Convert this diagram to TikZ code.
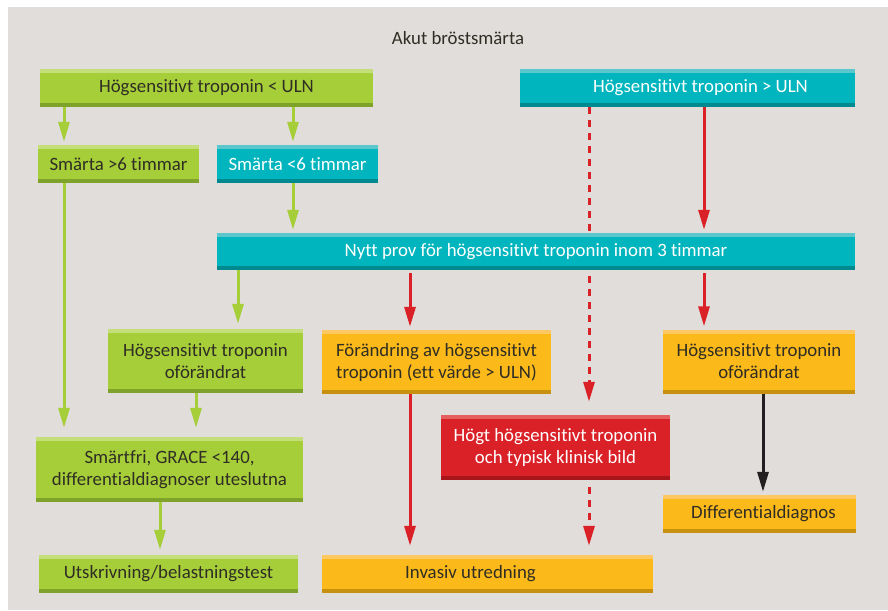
\documentclass[tikz,border=0pt]{standalone}
\usepackage{fontspec}
\setmainfont{Carlito}[Ligatures={NoCommon}]
\usetikzlibrary{arrows.meta,backgrounds}
\definecolor{bgc}{HTML}{E1DDDA}
\definecolor{greenf}{HTML}{A6CE39}
\definecolor{greentop}{HTML}{C4DE7A}
\definecolor{greenbot}{HTML}{7EA22A}
\definecolor{tealf}{HTML}{00B5BD}
\definecolor{tealtop}{HTML}{5BC6CB}
\definecolor{tealbot}{HTML}{00898F}
\definecolor{orangef}{HTML}{FBB91A}
\definecolor{orangetop}{HTML}{FDC862}
\definecolor{orangebot}{HTML}{C8900F}
\definecolor{redf}{HTML}{DA2128}
\definecolor{redtop}{HTML}{E65F5F}
\definecolor{redbot}{HTML}{A8151B}
\definecolor{darktxt}{HTML}{2F2D24}
\definecolor{blackarr}{HTML}{231F20}
\def\boxfont{\fontsize{18.8}{22}\selectfont}
\tikzset{
	flowbox/.style n args={3}{rectangle, inner sep=0pt, align=center, font=\boxfont, fill=#1,
		path picture={
			\fill[#2] (path picture bounding box.north west) rectangle ([yshift=-4pt]path picture bounding box.north east);
			\fill[#3] (path picture bounding box.south west) rectangle ([yshift=4pt]path picture bounding box.south east);
		}},
	greenbox/.style={flowbox={greenf}{greentop}{greenbot}, text=darktxt},
	tealbox/.style={flowbox={tealf}{tealtop}{tealbot}, text=white},
	orangebox/.style={flowbox={orangef}{orangetop}{orangebot}, text=darktxt},
	redbox/.style={flowbox={redf}{redtop}{redbot}, text=white},
	garrow/.style={draw=greenf, line width=3pt, -{Triangle[length=20pt,width=11pt]}, shorten >=3pt},
	rarrow/.style={draw=redf, line width=3pt, -{Triangle[length=20pt,width=11pt]}, shorten >=3pt},
	karrow/.style={draw=blackarr, line width=3pt, -{Triangle[length=20pt,width=11pt]}, shorten >=3pt},
	dashline/.style={dash pattern=on 7pt off 6pt},
}

\begin{document}
\begin{tikzpicture}[x=1pt, y=-1pt]
			%%%%% START %%%%%
			\useasboundingbox (0, 0) rectangle (888, 610);
			
			\node[font=\boxfont, text=darktxt] (title) at (458, 38) {Akut bröstsmärta};
			
			\node[greenbox, minimum width=333pt, minimum height=38pt] (lowA) at (206.5, 88) {Högsensitivt troponin < ULN};
			\node[tealbox, minimum width=335pt, minimum height=38pt] (highA) at (687.5, 88) {\hspace*{26pt}Högsensitivt troponin > ULN};
			
			\node[greenbox, minimum width=161pt, minimum height=38pt] (long) at (118.5, 164) {Smärta >6 timmar};
			\node[tealbox, minimum width=161pt, minimum height=38pt] (short) at (297.5, 164) {Smärta <6 timmar};
			
			\node[tealbox, minimum width=638pt, minimum height=37pt] (retest) at (536, 251.5) {Nytt prov för högsensitivt troponin inom 3 timmar};
			
			\node[greenbox, minimum width=195pt, minimum height=64pt] (sameG) at (205.5, 361) {Högsensitivt troponin\\oförändrat};
			\node[orangebox, minimum width=229pt, minimum height=64pt] (change) at (436.5, 362) {Förändring av högsensitivt\\troponin (ett värde > ULN)};
			\node[orangebox, minimum width=192pt, minimum height=64pt] (sameO) at (759, 361.5) {Högsensitivt troponin\\oförändrat};
			
			\node[redbox, minimum width=229pt, minimum height=65pt] (high) at (555.5, 447.5) {Högt högsensitivt troponin\\och typisk klinisk bild};
			\node[greenbox, minimum width=267pt, minimum height=65pt] (free) at (169.5, 469.5) {Smärtfri, GRACE <140,\\differentialdiagnoser uteslutna};
			\node[orangebox, minimum width=193pt, minimum height=38pt] (diff) at (759.5, 514) {\hspace*{8pt}Differentialdiagnos};
			
			\node[greenbox, minimum width=259pt, minimum height=38pt] (discharge) at (168.5, 574) {Utskrivning/belastningstest};
			\node[orangebox, minimum width=331pt, minimum height=38pt] (invasive) at (487.5, 574) {Invasiv utredning\hspace*{34pt}};
			
			% green path
			\draw[garrow] (lowA.south -| 64,0) -- (long.north -| 64,0);
			\draw[garrow] (lowA.south -| 293,0) -- (short.north -| 293,0);
			\draw[garrow, shorten >=9pt] (long.south -| 64,0) -- (free.north -| 64,0);
			\draw[garrow] (short.south -| 293,0) -- (retest.north -| 293,0);
			\draw[garrow, shorten >=5pt] (retest.south -| 238,0) -- (sameG.north -| 238,0);
			\draw[garrow, shorten >=9pt] (sameG.south -| 196,0) -- (free.north -| 196,0);
			\draw[garrow, shorten >=5pt] (free.south -| 160,0) -- (discharge.north -| 160,0);
			
			% red path
			\draw[rarrow] (highA.south -| 704,0) -- (retest.north -| 704,0);
			\draw[rarrow, shorten <=3pt] (retest.south -| 410,0) -- (change.north -| 410,0);
			\draw[rarrow, shorten <=3pt] (retest.south -| 704,0) -- (sameO.north -| 704,0);
			\draw[rarrow, shorten >=9pt] (change.south -| 410,0) -- (invasive.north -| 410,0);
			\draw[rarrow, dashline, shorten <=7pt, shorten >=9pt] (high.south -| 589,0) -- (invasive.north -| 589,0);
			
			\draw[karrow] (sameO.south -| 763,0) -- (diff.north -| 763,0);
			
			\begin{pgfonlayer}{background}
				\fill[white] (0, 0) rectangle (888, 610);
				\fill[bgc] (8, 7) rectangle (888, 610);
				\draw[rarrow, dashline, shorten >=13pt] (highA.south -| 589,0) -- (high.north -| 589,0);
			\end{pgfonlayer}
			
			%%%%% END %%%%%
\end{tikzpicture}
\end{document}
